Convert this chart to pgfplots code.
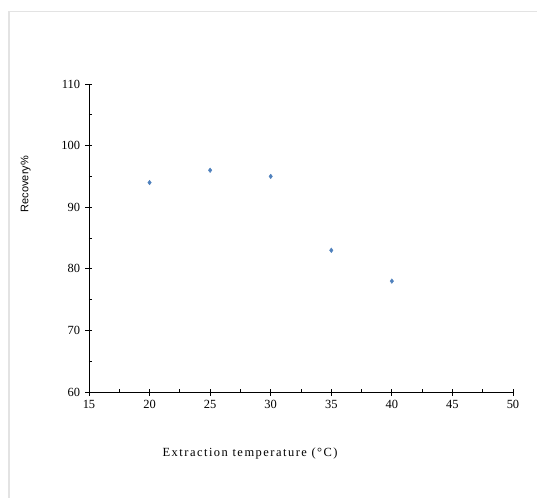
\documentclass[border=0pt]{standalone}
\usepackage{fontspec}
\setmainfont{Liberation Serif}
\newfontfamily\labsans{Liberation Sans}
\newfontfamily\spaced[LetterSpace=12]{Liberation Serif}
\usepackage{pgfplots}
\pgfplotsset{compat=1.18}
\definecolor{mk}{RGB}{79,129,189}
\begin{document}
\begin{tikzpicture}
\useasboundingbox[fill=white] (-89bp,-106bp) rectangle (448bp,392bp);
\draw[gray!22, line width=1.3bp] (-80bp,-106bp) -- (-80bp,380.5bp) -- (448bp,380.5bp);
\begin{axis}[
  at={(0,0)}, anchor=origin,
  scale only axis,
  width=424bp, height=308bp,
  xmin=15, xmax=50, ymin=60, ymax=110,
  axis lines*=left,
  xtick={15,20,...,50}, ytick={60,70,...,110},
  minor x tick num=1, minor y tick num=1,
  tick align=center,
  major tick length=7bp,
  minor tick length=3.5bp,
  minor x tick style={yshift=1.75bp},
  minor y tick style={xshift=1.75bp},
  every tick/.style={black, line width=0.8bp},
  axis line style={black, line width=0.9bp},
  tick label style={font=\fontsize{12.5}{14}\selectfont},
  /pgf/number format/assume math mode=true,
  xticklabel style={yshift=-1bp},
  yticklabel style={xshift=-2bp},
  xlabel={\spaced\fontsize{12.5}{14}\selectfont Extraction temperature (°C)},
  xlabel style={at={(rel axis cs:0.38,0)}, anchor=center, yshift=-62bp},
  ylabel={\labsans\fontsize{11}{13}\selectfont Recovery\%},
  ylabel style={at={(rel axis cs:-0.149,0.675)}, anchor=center, rotate=0},
  clip=false,
]
\addplot[only marks, mark=diamond*, mark size=2.3bp, mk, mark options={draw=mk, fill=mk}] coordinates {
(20,94) (25,96) (30,95) (35,83) (40,78)
};
\end{axis}
\end{tikzpicture}
\end{document}
